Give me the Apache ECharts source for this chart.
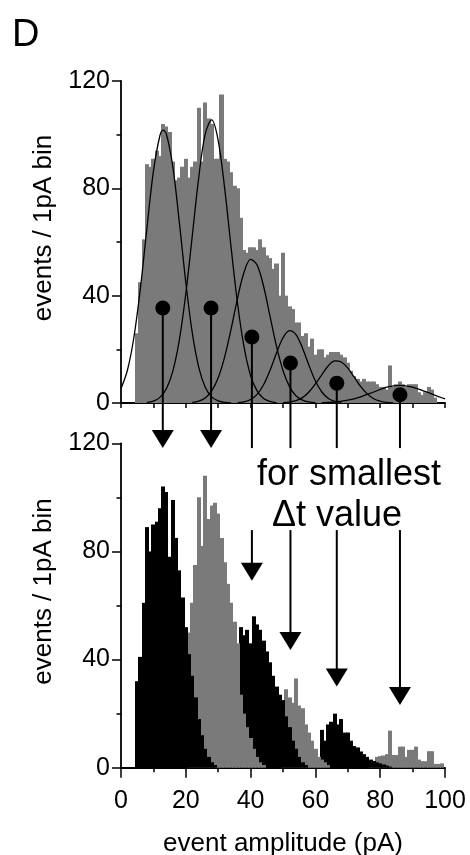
<!DOCTYPE html>
<html><head><meta charset="utf-8">
<script src="https://cdn.jsdelivr.net/npm/echarts/dist/echarts.min.js"></script>
<style>html,body{margin:0;padding:0;background:#fff}#c{width:470px;height:855px}</style>
</head><body><div id="c"></div>
<script>
// ---------- data ----------
const xTicksBottom = [0, 20, 40, 60, 80, 100];
const yTicks = [0, 40, 80, 120];

// top panel: all events histogram (1 pA bins, first bin centred at 5 pA)
const topBinStart = 5;
const topCounts = [26,45,61,89,88,91,94,92,104,103,101,90,83,84,88,91,84,88,90,110,90,112,106,104,91,91,115,91,90,86,81,80,69,57,56,58,58,57,61,58,55,54,50,52,40,56,40,36,35,30,30,25,26,21,24,18,20,20,17,18,19,19,19,18,17,15,12,10,9,8,9,8,8,8,7,6,6,5,14,6,7,8,7,6,7,7,7,4,3,4,6,5,2];

// bottom panel: component histograms for smallest Δt value
const comp1Start = 5;
const comp1Counts = [32,41,61,89,80,90,91,96,104,102,78,99,85,73,63,52,42,34,26,18,12,7,4,2,1];
const comp2Start = 21;
const comp2Counts = [50,61,75,100,82,108,92,97,98,94,85,76,68,61,54,46,27,20,15,11,7,4,2,1];
const comp3Start = 37;
const comp3Counts = [52,49,51,46,56,53,51,47,43,39,34,30,27,25,19,15,10,7,4,2,1];
const comp4Start = 50;
const comp4Counts = [22,29,26,24,33,23,22,16,13,10,7,4,3,2,1];
const comp5Start = 62;
const comp5Counts = [14,10,16,17,20,16,18,13,13,10,8,7.5,6,5,4,3,2.5,2,1.6,1.2,0.8,0.4];
const comp6Start = 77;
const comp6Counts = [1,2,4,4.3,4.5,5,13.7,4.7,4.7,7.8,7.8,4,6.6,6.6,7.8,3,2.4,2.4,6.1,6.1,1.4,1.4,1.6];

// fitted gaussian curves ([pA, events])
const fit1 = [[0,5.4],[2,12.3],[4,24.6],[6,42.9],[8,65.1],[10,86.3],[12,99.6],[13,101.7],[14,100.3],[16,88.0],[18,67.4],[20,45.0],[22,26.1],[24,13.3],[26,5.9],[28,2.3],[30,0.8],[32,0.2],[34,0.05]];
const fit2 = [[8,0.2],[10,0.7],[12,2.1],[14,5.3],[16,11.9],[18,23.4],[20,40.7],[22,62.3],[24,84.1],[26,100.3],[28,105.5],[30,97.8],[32,80.0],[34,57.8],[36,36.8],[38,20.7],[40,10.2],[42,4.5],[44,1.7],[46,0.6],[48,0.15]];
const fit3 = [[22,0.24],[24,0.7],[26,1.9],[28,4.5],[30,9.4],[32,17.2],[34,27.7],[36,39.2],[38,48.8],[40,53.5],[42,51.4],[44,43.5],[46,32.3],[48,21.1],[50,12.1],[52,6.1],[54,2.7],[56,1.1],[58,0.4],[60,0.1]];
const fit4 = [[36,0.13],[38,0.45],[40,1.3],[42,3.2],[44,6.8],[46,12.2],[48,18.6],[50,24.3],[52,27],[54,25.5],[56,20.5],[58,14.1],[60,8.2],[62,4.1],[64,1.7],[66,0.6],[68,0.2]];
const fit5 = [[50,0.1],[52,0.33],[54,0.9],[56,2.0],[58,4.1],[60,7.1],[62,10.6],[64,13.9],[66,15.7],[68,15.3],[70,13.0],[72,9.6],[74,6.1],[76,3.4],[78,1.6],[80,0.7],[82,0.24],[84,0.07]];
const fit6 = [[62,0.1],[66,0.37],[70,1.04],[74,2.3],[78,4.1],[82,5.9],[86,6.6],[90,5.9],[94,4.2],[98,2.4],[100,1.5]];

// peak markers (dots with stems) and arrows
const peakX = [12.9, 27.8, 40.4, 52.3, 66.6, 86.1];
const dotY = [35.4, 35.4, 24.6, 14.9, 7.4, 3.1];
const stemEndY = -16.8;               // in top-panel units (below the axis)
const stemHasHead = [1, 1, 0, 0, 0, 0];
const lowerArrowStart = 87.9;         // bottom-panel units
const lowerArrowTip = [null, null, 69.2, 43.5, 30, 23.2];

// ---------- helpers ----------
const FONT = "'Liberation Sans', Arial, Helvetica, sans-serif";
const GRAY = '#7a7a7a';
const toBins = (start, counts) => counts.map((v, i) => [start + i, v]);

function histSeries(start, counts, color, gi) {
  return {
    type: 'custom', xAxisIndex: gi, yAxisIndex: gi, silent: true,
    data: toBins(start, counts),
    renderItem: (params, api) => {
      const k = api.value(0), v = api.value(1);
      const a = api.coord([Math.max(k - 0.5, 0), v]);
      const b = api.coord([Math.min(k + 0.5, 100), 0]);
      const x0 = Math.floor(a[0]), x1 = Math.ceil(b[0]);
      return { type: 'rect', shape: { x: x0, y: a[1], width: x1 - x0, height: b[1] - a[1] },
        style: { fill: color, opacity: 1 } };
    }
  };
}
function fitSeries(pts) {
  return { type: 'line', xAxisIndex: 0, yAxisIndex: 0, data: pts, smooth: 0.35, showSymbol: false, silent: true,
    lineStyle: { color: '#000', width: 1.3 }, z: 3 };
}
const HEAD_L = 18, HEAD_W = 11;
function headShape(p) {
  return { type: 'polygon', shape: { points: [[p[0] - HEAD_W, p[1] - HEAD_L], [p[0] + HEAD_W, p[1] - HEAD_L], [p[0], p[1]]] },
    style: { fill: '#000' } };
}

function axisCommon(gi) {
  return {
    gridIndex: gi, type: 'value',
    axisLine: { show: true, onZero: false, lineStyle: { color: '#000', width: 1.8 } },
    splitLine: { show: false },
    nameMoveOverlap: false
  };
}

const chart = echarts.init(document.getElementById('c'), null, { renderer: 'canvas' });
chart.setOption({
  animation: false,
  backgroundColor: '#fff',
  grid: [
    { left: 121, top: 81, width: 324, height: 322, outerBoundsMode: 'none', containLabel: false },
    { left: 121, top: 443.3, width: 324, height: 324.4, outerBoundsMode: 'none', containLabel: false }
  ],
  xAxis: [
    Object.assign(axisCommon(0), { min: 0, max: 100, interval: 10,
      axisTick: { show: true, inside: false, length: 5, lineStyle: { color: '#000', width: 1.5 } },
      axisLabel: { show: false } }),
    Object.assign(axisCommon(1), { min: 0, max: 100, interval: 20,
      axisTick: { show: true, inside: false, length: 10, lineStyle: { color: '#000', width: 1.5 } },
      minorTick: { show: true, splitNumber: 2, length: 4.5, lineStyle: { color: '#000', width: 1.5 } },
      axisLabel: { show: true, margin: 21, fontSize: 25, fontFamily: FONT, color: '#000',
        customValues: xTicksBottom },
      name: 'event amplitude (pA)', nameLocation: 'middle', nameGap: 63,
      nameTextStyle: { fontSize: 26, fontFamily: FONT, color: '#000' } })
  ],
  yAxis: [0, 1].map(gi => Object.assign(axisCommon(gi), { min: 0, max: 120, interval: 40,
      axisTick: { show: true, inside: false, length: 9, lineStyle: { color: '#000', width: 1.5 } },
      minorTick: { show: true, splitNumber: 2, length: 4.5, lineStyle: { color: '#000', width: 1.5 } },
      axisLabel: { show: true, margin: 11, fontSize: 25, fontFamily: FONT, color: '#000', customValues: yTicks },
      name: 'events / 1pA bin', nameLocation: 'middle', nameGap: 64,
      nameTextStyle: { fontSize: 26, fontFamily: FONT, color: '#000', padding: [0, 0, 0, 28] } })),
  series: [
    histSeries(topBinStart, topCounts, GRAY, 0),
    fitSeries(fit1), fitSeries(fit2), fitSeries(fit3), fitSeries(fit4), fitSeries(fit5), fitSeries(fit6),
    {
      type: 'custom', xAxisIndex: 0, yAxisIndex: 0, clip: false, silent: true, z: 4,
      data: peakX.map((x, i) => [x, dotY[i], stemEndY, stemHasHead[i]]),
      renderItem: (params, api) => {
        const x = api.value(0);
        const p0 = api.coord([x, api.value(1)]);
        const p1 = api.coord([x, api.value(2)]);
        const head = api.value(3) === 1;
        const children = [{ type: 'line', shape: { x1: p0[0], y1: p0[1], x2: p1[0], y2: head ? p1[1] - HEAD_L + 2 : p1[1] },
          style: { stroke: '#000', lineWidth: 2 } }];
        if (head) children.push(headShape(p1));
        return { type: 'group', children };
      }
    },
    { type: 'scatter', xAxisIndex: 0, yAxisIndex: 0, data: peakX.map((x, i) => [x, dotY[i]]),
      symbol: 'circle', symbolSize: 15, itemStyle: { color: '#000', opacity: 1 }, silent: true, z: 5 },
    // bottom panel: later components behind, earlier ones in front
    histSeries(comp6Start, comp6Counts, GRAY, 1),
    histSeries(comp5Start, comp5Counts, '#000', 1),
    histSeries(comp4Start, comp4Counts, GRAY, 1),
    histSeries(comp3Start, comp3Counts, '#000', 1),
    histSeries(comp2Start, comp2Counts, GRAY, 1),
    histSeries(comp1Start, comp1Counts, '#000', 1),
    {
      type: 'custom', xAxisIndex: 1, yAxisIndex: 1, clip: false, silent: true, z: 4,
      data: peakX.map((x, i) => [x, lowerArrowStart, lowerArrowTip[i]]).filter(d => d[2] !== null),
      renderItem: (params, api) => {
        const x = api.value(0);
        const p0 = api.coord([x, api.value(1)]);
        const p1 = api.coord([x, api.value(2)]);
        return { type: 'group', children: [
          { type: 'line', shape: { x1: p0[0], y1: p0[1], x2: p1[0], y2: p1[1] - HEAD_L + 2 }, style: { stroke: '#000', lineWidth: 2 } },
          headShape(p1)
        ] };
      }
    }
  ],
  graphic: [
    { type: 'text', x: 12, y: 36, style: { text: 'D', font: '38px ' + FONT, fill: '#000', verticalAlign: 'middle' } },
    { type: 'text', x: 257, y: 475, style: { text: 'for smallest', font: '36px ' + FONT, fill: '#000', verticalAlign: 'middle' } },
    { type: 'text', x: 272, y: 516, style: { text: 'Δt value', font: '36px ' + FONT, fill: '#000', verticalAlign: 'middle' } }
  ]
});
</script></body></html>
